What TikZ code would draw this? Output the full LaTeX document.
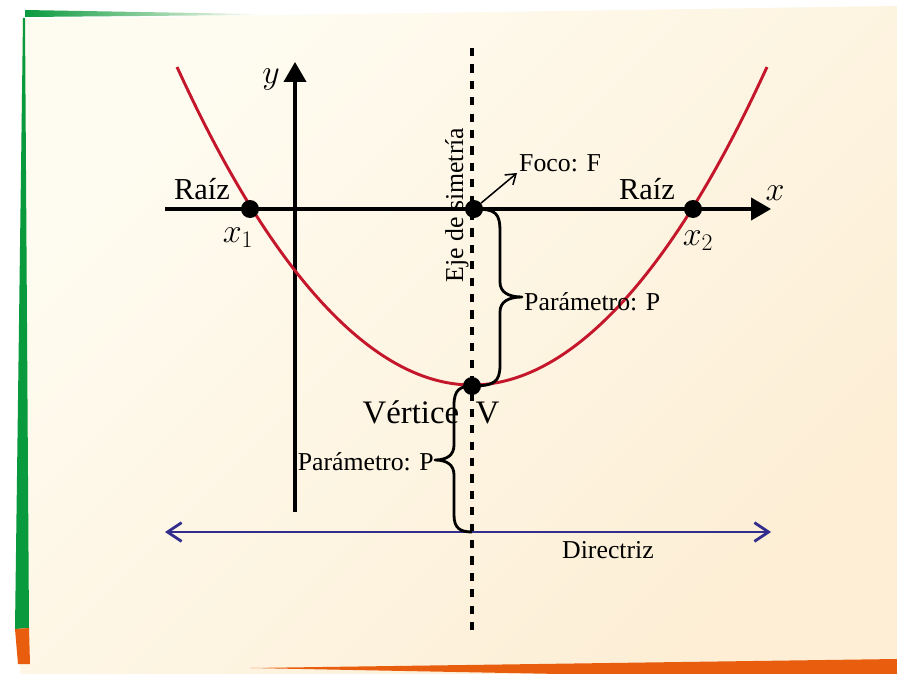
\RequirePackage{fix-cm}
\documentclass[tikz,border=0pt]{standalone}
\usepackage{fontspec}
\setmainfont{Liberation Serif}
\usepackage{tikz}
\usetikzlibrary{arrows.meta}

\definecolor{crema}{HTML}{FEFCF1}
\definecolor{cremaosc}{HTML}{FDEED5}
\definecolor{verde}{HTML}{0A9A3E}
\definecolor{naranja}{HTML}{E95D0F}
\definecolor{rojo}{HTML}{C4172C}
\definecolor{azul}{HTML}{332E8E}

\begin{document}
\begin{tikzpicture}[
    x=0.03cm, y=-0.03cm,
    eje/.style={line width=2.6pt, -{Triangle[length=17pt, width=19pt]}},
    dot/.style={circle, fill=black, inner sep=0pt, minimum size=0.54cm},
    lbl/.style={inner sep=0pt, font=\fontsize{22}{26}\selectfont},
    big/.style={inner sep=0pt, font=\fontsize{26}{30}\selectfont},
    mat/.style={inner sep=0pt, font=\fontsize{29}{33}\selectfont},
    llave/.style={line width=2.4pt, line join=round},
]

\useasboundingbox (0,0) rectangle (897,674);
\fill[white] (0,0) rectangle (897,674);
\shade[top color=crema, bottom color=cremaosc, shading angle=45] (21,19) -- (897,6) -- (897,674) -- (20,674) -- cycle;

% franjas del marco
\shade[left color=verde, right color=crema] (25,10) -- (255,14) -- (255,15) -- (25,17) -- cycle;
\fill[verde] (23,18) -- (25,18) -- (29,628) -- (15,629) -- cycle;
\fill[naranja] (15,629) -- (29,628) -- (30,664) -- (18,664) -- cycle;
\fill[naranja] (250,668) -- (897,659) -- (897,674) -- (560,674) -- cycle;

% ejes
\coordinate (x0) at (165,209);
\coordinate (x1) at (771,209);
\coordinate (y0) at (295,512);
\coordinate (y1) at (295,62);
\draw[eje] (x0) -- (x1);
\draw[eje] (y0) -- (y1);
\node[mat] (xlab) at (775,193) {$x$};
\node[mat] (ylab) at (271,79) {$y$};

% parabola
\coordinate (pl) at (177,67);
\coordinate (pv) at (472,385);
\coordinate (pr) at (767,67);
\draw[rojo, line width=2.5pt] (pl) parabola bend (pv) (pr);

% eje de simetria
\coordinate (s0) at (472,48);
\coordinate (s1) at (472,630);
\draw[line width=3pt, dash pattern=on 7pt off 7pt] (s0) -- (s1);
\node[lbl, anchor=base, rotate=90] (ejelab) at (463,205) {Eje de simetría};

% directriz
\coordinate (d0) at (165,532);
\coordinate (d1) at (771,532);
\coordinate (dpie) at (472,532);
\draw[azul, line width=2.4pt, {Straight Barb[length=12pt,width=16pt]}-{Straight Barb[length=12pt,width=16pt]}] (d0) -- (d1);
\node[lbl, anchor=base] (dlab) at (608,558) {Directriz};

% llaves
\draw[llave] (474,209) .. controls (496,209) and (500,213) .. (500,232) -- (500,282)
    .. controls (500,292) and (508,297) .. (522,297)
    .. controls (508,297) and (500,302) .. (500,312) -- (500,365)
    .. controls (500,382) and (494,386) .. (472,386);
\node[lbl, anchor=west] (p1) at (524,302) {Parámetro: P};
\draw[llave] (472,386) .. controls (460,386) and (454,390) .. (454,405) -- (454,445)
    .. controls (454,455) and (447,460) .. (435,460)
    .. controls (447,460) and (454,465) .. (454,475) -- (454,515)
    .. controls (454,528) and (460,532) .. (dpie);
\node[lbl, anchor=east] (p2) at (434,462) {Parámetro: P};

\node[dot] (r1) at (250,209) {};
\node[dot] (r2) at (693,209) {};
\node[dot] (foco) at (474,209) {};
\node[dot] (vert) at (472,386) {};

% foco
\coordinate (fpunta) at (517,173);
\draw[line width=1.3pt, -{Straight Barb[length=8pt,width=11pt]}] (foco) -- (fpunta);
\node[lbl, anchor=west] (flab) at (519,163) {Foco: F};

\node[big, anchor=base] (raiz1) at (202,199) {Raíz};
\node[big, anchor=base] (raiz2) at (647,199) {Raíz};
\node[mat, anchor=base] (lx1) at (238,242) {$x_1$};
\node[mat, anchor=base] (lx2) at (698,245) {$x_2$};
\node[big, anchor=base, font=\fontsize{28}{32}\selectfont] (vlab) at (431,423) {Vértice\enspace V};

\end{tikzpicture}
\end{document}
